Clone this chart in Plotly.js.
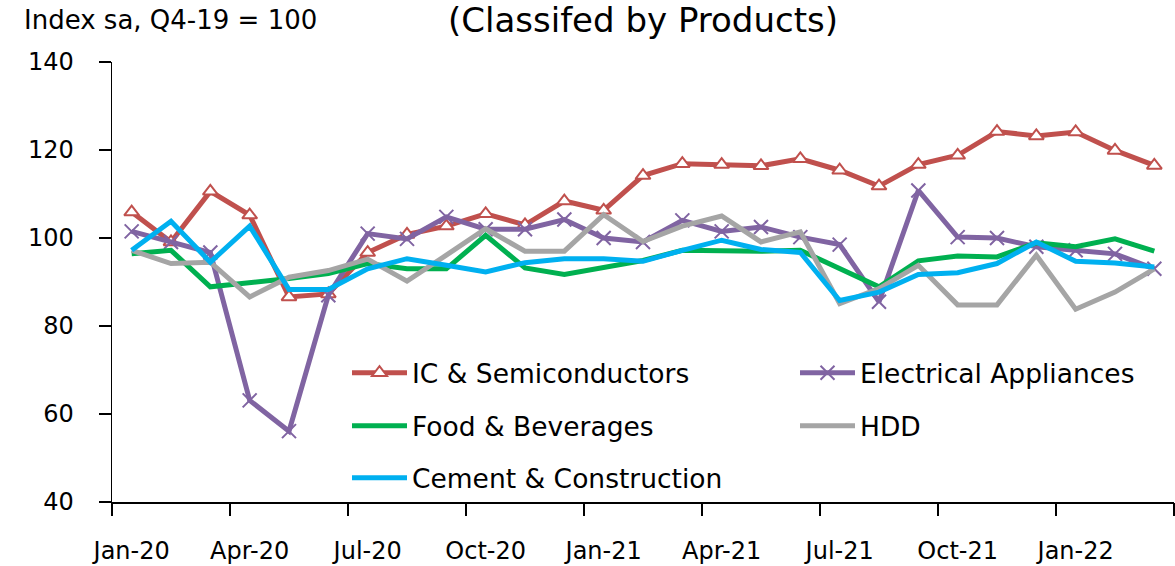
<!DOCTYPE html>
<html>
<head>
<meta charset="utf-8">
<script src="https://cdn.plot.ly/plotly-3.0.1.min.js"></script>
<style>
html,body{margin:0;padding:0;background:#fff;}
#chart{width:1175px;height:566px;}
</style>
</head>
<body>
<div id="chart"></div>
<script>
const months = ["Jan-20","Feb-20","Mar-20","Apr-20","May-20","Jun-20","Jul-20","Aug-20","Sep-20","Oct-20","Nov-20","Dec-20",
  "Jan-21","Feb-21","Mar-21","Apr-21","May-21","Jun-21","Jul-21","Aug-21","Sep-21","Oct-21","Nov-21","Dec-21",
  "Jan-22","Feb-22","Mar-22"];
const tickLabels = ["Jan-20","Apr-20","Jul-20","Oct-20","Jan-21","Apr-21","Jul-21","Oct-21","Jan-22"];

const icSemi = [105.9,99.1,110.6,105.2,86.6,87.3,96.7,100.8,102.7,105.5,103.0,108.4,
  106.3,114.2,116.9,116.7,116.4,118.0,115.4,111.8,116.7,118.8,124.2,123.2,124.1,119.9,116.5];
const electrical = [101.5,99.1,96.7,63.1,56.1,87.0,101.0,99.8,104.8,102.0,102.0,104.2,
  100.0,99.1,104.0,101.5,102.5,100.2,98.5,85.5,110.8,100.2,100.0,98.0,97.2,96.4,93.0];
const foodBev = [96.4,97.2,88.9,89.8,90.8,91.9,94.2,93.0,93.0,100.6,93.2,91.7,
  93.4,94.9,97.2,97.0,97.0,97.2,93.1,88.9,94.8,95.9,95.7,98.9,98.0,99.8,97.0];
const hdd = [97.2,94.2,94.5,86.6,91.1,92.6,95.2,90.2,96.1,102.1,97.0,97.0,
  105.3,99.2,102.7,105.0,99.1,101.4,85.1,88.5,93.8,84.8,84.8,96.1,83.8,87.7,93.0];
const cement = [97.2,103.8,94.5,102.7,88.3,88.3,93.0,95.3,93.8,92.3,94.4,95.3,
  95.3,94.7,97.2,99.5,97.4,96.7,85.8,87.7,91.7,92.1,94.2,99.1,94.7,94.3,93.4];

const seriesNames = ["IC & Semiconductors","Electrical Appliances","Food & Beverages","HDD","Cement & Construction"];
const colors = ["#C0504D","#8064A2","#00B050","#A5A5A5","#00B0F0"];

const FONT = "DejaVu Sans, Verdana, sans-serif";

const traces = [
  {x: months, y: icSemi, name: seriesNames[0], type: "scatter", mode: "lines+markers",
   line: {color: colors[0], width: 5},
   marker: {symbol: "triangle-up", size: 13, color: "#ffffff", line: {color: colors[0], width: 2}},
   legend: "legend"},
  {x: months, y: electrical, name: seriesNames[1], type: "scatter", mode: "lines+markers",
   line: {color: colors[1], width: 5},
   marker: {symbol: "x-thin-open", size: 14, color: colors[1], line: {color: colors[1], width: 2}},
   legend: "legend2"},
  {x: months, y: foodBev, name: seriesNames[2], type: "scatter", mode: "lines",
   line: {color: colors[2], width: 5}, legend: "legend3"},
  {x: months, y: hdd, name: seriesNames[3], type: "scatter", mode: "lines",
   line: {color: colors[3], width: 5}, legend: "legend4"},
  {x: months, y: cement, name: seriesNames[4], type: "scatter", mode: "lines",
   line: {color: colors[4], width: 5}, legend: "legend5"},
  {x: [], y: [], xaxis: "x2", showlegend: false, hoverinfo: "skip"}
];

const boundaryTicks = [];
for (let i = 0; i <= months.length; i += 3) boundaryTicks.push(i - 0.5);

const PL = 112, PT = 62, PW = 1062, PH = 440;
function leg(px, py) {
  return {x: (px - PL) / PW, y: (PT + PH - py) / PH, xref: "paper", yref: "paper",
    xanchor: "left", yanchor: "middle", orientation: "h", itemwidth: 55,
    bgcolor: "rgba(0,0,0,0)", borderwidth: 0,
    font: {family: FONT, size: 26.5, color: "#000"}};
}

const layout = {
  width: 1175, height: 566,
  margin: {l: PL, r: 1175 - PL - PW, t: PT, b: 566 - PT - PH, pad: 0, autoexpand: false},
  paper_bgcolor: "#ffffff", plot_bgcolor: "rgba(0,0,0,0)",
  font: {family: FONT, color: "#000"},
  title: {text: "(Classifed by Products)", x: 643 / 1175, xref: "container", xanchor: "center",
    y: 1 - 20 / 566, yref: "container", yanchor: "middle",
    font: {family: FONT, size: 34, color: "#000"}},
  xaxis: {type: "category", range: [-0.5, months.length - 0.5],
    tickvals: tickLabels, ticktext: tickLabels, ticks: "",
    showline: true, linecolor: "#000", linewidth: 1.5, showgrid: false, zeroline: false,
    ticklabelstandoff: 27,
    tickfont: {family: FONT, size: 24, color: "#000"}},
  xaxis2: {overlaying: "x", anchor: "y", type: "linear", range: [-0.5, months.length - 0.5],
    tickmode: "array", tickvals: boundaryTicks, ticks: "outside", ticklen: 13, tickwidth: 1.5,
    tickcolor: "#000", showticklabels: false, showline: false, showgrid: false, zeroline: false, side: "bottom"},
  yaxis: {range: [40, 140], dtick: 20, tick0: 40, ticks: "outside", ticklen: 12, tickwidth: 1.5,
    tickcolor: "#000", showline: true, linecolor: "#000", linewidth: 1.5, showgrid: false, zeroline: false,
    ticklabelstandoff: 20,
    tickfont: {family: FONT, size: 24, color: "#000"}},
  legend: leg(347, 373),
  legend2: leg(795, 373),
  legend3: leg(347, 426),
  legend4: leg(795, 426),
  legend5: leg(347, 478),
  annotations: [
    {text: "Index sa, Q4-19 = 100", xref: "paper", yref: "paper", x: -90 / PW, y: 1 + 42 / PH,
     xanchor: "left", yanchor: "middle", showarrow: false,
     font: {family: FONT, size: 26, color: "#000"}}
  ],
  showlegend: true
};

Plotly.newPlot("chart", traces, layout, {staticPlot: true, displayModeBar: false});
</script>
</body>
</html>
